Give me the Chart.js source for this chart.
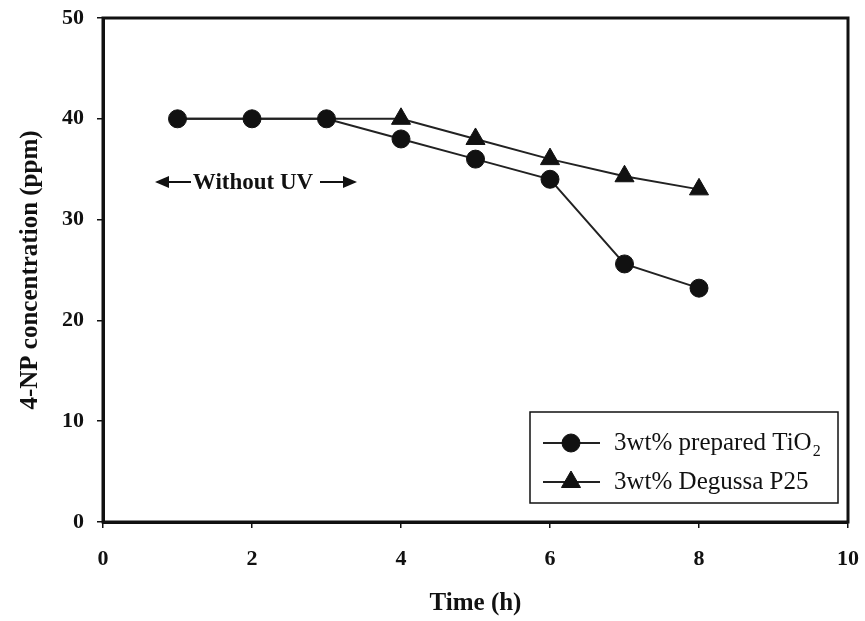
<!DOCTYPE html>
<html>
<head>
<meta charset="utf-8">
<script src="https://cdn.jsdelivr.net/npm/chart.js@4/dist/chart.umd.min.js"></script>
<style>
  body { margin: 0; background: #fff; }
  #wrap { width: 865px; height: 621px; }
</style>
</head>
<body>
<div id="wrap"><canvas id="chart" width="865" height="621"></canvas></div>
<script>
// Werte
const times = [1, 2, 3, 4, 5, 6, 7, 8];
const prepared = [40, 40, 40, 38, 36, 34, 25.6, 23.2];
const degussa = [40, 40, 40, 40, 38, 36, 34.3, 33];
const seriesNames = ['3wt% prepared TiO', '3wt% Degussa P25'];
const xTicks = [0, 2, 4, 6, 8, 10];
const yTicks = [0, 10, 20, 30, 40, 50];

const ink = '#111';
const serif = "'Liberation Serif', 'Times New Roman', serif";

const toPoints = vals => vals.map((v, i) => ({ x: times[i], y: v }));

// Rahmen, Legende und Beschriftung "Without UV"
const extras = {
  id: 'extras',
  afterDraw(chart) {
    const { ctx, chartArea: a } = chart;
    ctx.save();
    ctx.strokeStyle = ink;
    ctx.lineWidth = 3;
    ctx.strokeRect(a.left, a.top, a.right - a.left, a.bottom - a.top);

    // Pfeile + Text
    const ay = 182;
    ctx.fillStyle = ink;
    ctx.lineWidth = 2;
    ctx.font = 'bold 23px ' + serif;
    ctx.textAlign = 'center';
    ctx.textBaseline = 'middle';
    ctx.fillText('Without UV', 253, ay + 1);
    const arrow = (x0, x1) => {
      const dir = Math.sign(x1 - x0);
      ctx.beginPath();
      ctx.moveTo(x0, ay);
      ctx.lineTo(x1 - dir * 10, ay);
      ctx.stroke();
      ctx.beginPath();
      ctx.moveTo(x1, ay);
      ctx.lineTo(x1 - dir * 14, ay - 6);
      ctx.lineTo(x1 - dir * 14, ay + 6);
      ctx.closePath();
      ctx.fill();
    };
    arrow(191, 155);
    arrow(320, 357);

    // Legende
    const bx = 530, by = 412, bw = 308, bh = 91;
    ctx.fillStyle = '#fff';
    ctx.fillRect(bx, by, bw, bh);
    ctx.lineWidth = 1.5;
    ctx.strokeRect(bx, by, bw, bh);
    const rows = [443, 482];
    chart.data.datasets.forEach((ds, i) => {
      const y = rows[i];
      ctx.strokeStyle = '#222';
      ctx.lineWidth = 2;
      ctx.beginPath();
      ctx.moveTo(543, y);
      ctx.lineTo(600, y);
      ctx.stroke();
      ctx.fillStyle = ink;
      ctx.strokeStyle = ink;
      ctx.lineWidth = 1;
      Chart.helpers.drawPoint(ctx, {
        pointStyle: ds.pointStyle, radius: i === 0 ? 9 : 11, rotation: 0, borderWidth: 1
      }, 571, y);
      ctx.fillStyle = ink;
      ctx.font = '25px ' + serif;
      ctx.textAlign = 'left';
      ctx.textBaseline = 'middle';
      ctx.fillText(seriesNames[i], 614, y);
      if (i === 0) {
        const w = ctx.measureText(seriesNames[i]).width;
        ctx.font = '16px ' + serif;
        ctx.fillText('2', 614 + w + 1, y + 9);
      }
    });
    ctx.restore();
  }
};

const commonDs = {
  borderColor: '#222',
  borderWidth: 2,
  backgroundColor: ink,
  pointBackgroundColor: ink,
  pointBorderColor: ink,
  pointBorderWidth: 1,
  showLine: true,
  tension: 0
};

new Chart(document.getElementById('chart'), {
  type: 'scatter',
  data: {
    datasets: [
      { ...commonDs, label: seriesNames[0], data: toPoints(prepared), pointStyle: 'circle', pointRadius: 9 },
      {
        ...commonDs, label: seriesNames[1], data: toPoints(degussa), pointStyle: 'triangle',
        // Dreiecke unter den Kreisen (1-3 h) sind im Original verdeckt
        pointRadius: c => (degussa[c.dataIndex] === prepared[c.dataIndex] ? 0 : 11)
      }
    ]
  },
  options: {
    responsive: false,
    animation: false,
    layout: { padding: { top: 18, right: 17, left: 0, bottom: 0 } },
    plugins: { legend: { display: false }, tooltip: { enabled: false } },
    scales: {
      x: {
        type: 'linear',
        min: xTicks[0],
        max: xTicks[xTicks.length - 1],
        afterBuildTicks: s => { s.ticks = xTicks.map(v => ({ value: v })); },
        afterFit: s => { s.height = 99; s.paddingLeft = 0; s.paddingRight = 0; },
        grid: { drawOnChartArea: false, drawTicks: true, tickLength: 6, tickColor: ink, lineWidth: 1.5 },
        border: { display: true, color: ink, width: 3 },
        ticks: { color: ink, padding: 18, font: { family: serif, size: 22, weight: 'bold' } },
        title: {
          display: true, text: 'Time (h)', color: ink,
          padding: { top: 0, bottom: 2 },
          font: { family: serif, size: 25, weight: 'bold' }
        }
      },
      y: {
        type: 'linear',
        min: yTicks[0],
        max: yTicks[yTicks.length - 1],
        afterBuildTicks: s => { s.ticks = yTicks.map(v => ({ value: v })); },
        afterFit: s => { s.width = 103; s.paddingTop = 0; s.paddingBottom = 0; },
        grid: { drawOnChartArea: false, drawTicks: true, tickLength: 6, tickColor: ink, lineWidth: 1.5 },
        border: { display: true, color: ink, width: 3 },
        ticks: { color: ink, padding: 13, font: { family: serif, size: 22, weight: 'bold' } },
        title: {
          display: true, text: '4-NP concentration (ppm)', color: ink,
          padding: { top: 16, bottom: 0 },
          font: { family: serif, size: 25, weight: 'bold' }
        }
      }
    }
  },
  plugins: [extras]
});
</script>
</body>
</html>
